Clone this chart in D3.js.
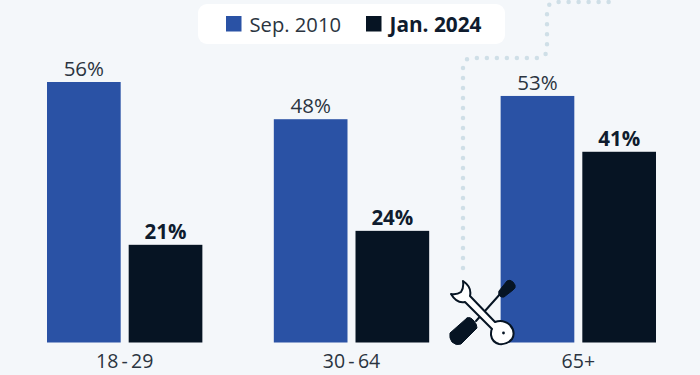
<!DOCTYPE html>
<html><head><meta charset="utf-8">
<script src="https://cdn.jsdelivr.net/npm/d3@7"></script>
<style>html,body{margin:0;padding:0;background:#f4f7fa}svg{display:block}text{font-family:"Open Sans",sans-serif}</style>
</head><body><script>
const categories = ["18-29","30-64","65+"];
const categoryLabels = ["18\u2009-\u200929","30\u2009-\u200964","65+"];
const seriesNames = ["Sep. 2010","Jan. 2024"];
const sep2010 = [56,48,53];
const jan2024 = [21,24,41];
const seriesValues = [sep2010,jan2024];
const colors = ["#2a52a5","#061423"];
const textColors = ["#2b3440","#0f1c2e"];
const W=700,H=375;
const svg=d3.select("body").append("svg").attr("width",W).attr("height",H);
svg.append("rect").attr("width",W).attr("height",H).attr("fill","#f4f7fa");

const x0=d3.scaleBand().domain(categories).range([47,656]).paddingInner(0.315).paddingOuter(0);
const x1=d3.scaleBand().domain(seriesNames).range([0,x0.bandwidth()]).paddingInner(0.098);
const y=d3.scaleLinear().domain([0,56]).range([342.5,82]);

// dotted decoration
svg.append("path").attr("d","M463 268V68Q463 58 473 58H537Q547 58 547 48V12Q547 2 557 2H610")
  .attr("fill","none").attr("stroke","#cfdfe7").attr("stroke-width",4.5).attr("stroke-linecap","round").attr("stroke-dasharray","0 10");

// bars
seriesNames.forEach((s,si)=>{
  svg.append("g").selectAll("rect").data(seriesValues[si]).join("rect")
    .attr("x",(d,i)=>x0(categories[i])+x1(s)).attr("width",x1.bandwidth())
    .attr("y",d=>y(d)).attr("height",d=>y(0)-y(d)).attr("fill",colors[si]);
  svg.append("g").selectAll("text").data(seriesValues[si]).join("text")
    .attr("x",(d,i)=>x0(categories[i])+x1(s)+x1.bandwidth()/2).attr("y",d=>y(d)-6)
    .attr("text-anchor","middle").attr("font-size",20.5)
    .attr("font-weight",si?700:400).attr("fill",textColors[si]).text(d=>d+"%");
});

// axis
const axis=d3.axisBottom(x0).tickSize(0).tickFormat((d,i)=>categoryLabels[i]);
const ag=svg.append("g").attr("transform","translate(0,342.5)").call(axis);
ag.select(".domain").remove();
ag.selectAll("text").attr("font-size",19.5).attr("fill","#2b3440").attr("dy",0).attr("y",25).style("font-family",'"Open Sans",sans-serif');

// legend
svg.append("rect").attr("x",198).attr("y",4).attr("width",307).attr("height",40).attr("rx",9).attr("fill","#fff");
const legX=[226,366];
const legSize=[20.2,20.8];
seriesNames.forEach((s,i)=>{
  svg.append("rect").attr("x",legX[i]).attr("y",16).attr("width",15.5).attr("height",15.5).attr("fill",colors[i]);
  svg.append("text").attr("x",legX[i]+23.5).attr("y",31.5).attr("font-size",legSize[i])
    .attr("font-weight",i?700:400).attr("fill",textColors[i]).text(s);
});

// tools icon
const ic=svg.append("g").attr("stroke","#061423").attr("stroke-linejoin","round").attr("stroke-linecap","round");
ic.append("path").attr("d","M476 321L501 293").attr("stroke-width",2).attr("fill","none");
ic.append("path").attr("d","M499 291L507 281Q510 279 513 282L515 285Q516 288 513 290L504 297Q501 298 499 295Z").attr("fill","#061423").attr("stroke-width",1);
ic.append("path").attr("d","M467 318L450 333Q449 338 452 342Q456 346 461 344L477 328Q477 324 474 321Q470 316 467 318Z").attr("fill","#061423").attr("stroke-width",1);
ic.append("path").attr("d","M463 281Q472 287 470 296L495 322Q503 319 510 325Q516 332 512 339Q507 345 499 344Q492 342 491 335Q491 330 492 329L465 302Q457 304 451 294Q457 295 461 292Q464 288 463 281Z")
  .attr("fill","#fff").attr("stroke-width",2);
svg.append("circle").attr("cx",503.5).attr("cy",333).attr("r",1.4).attr("fill","#061423");
</script></body></html>
